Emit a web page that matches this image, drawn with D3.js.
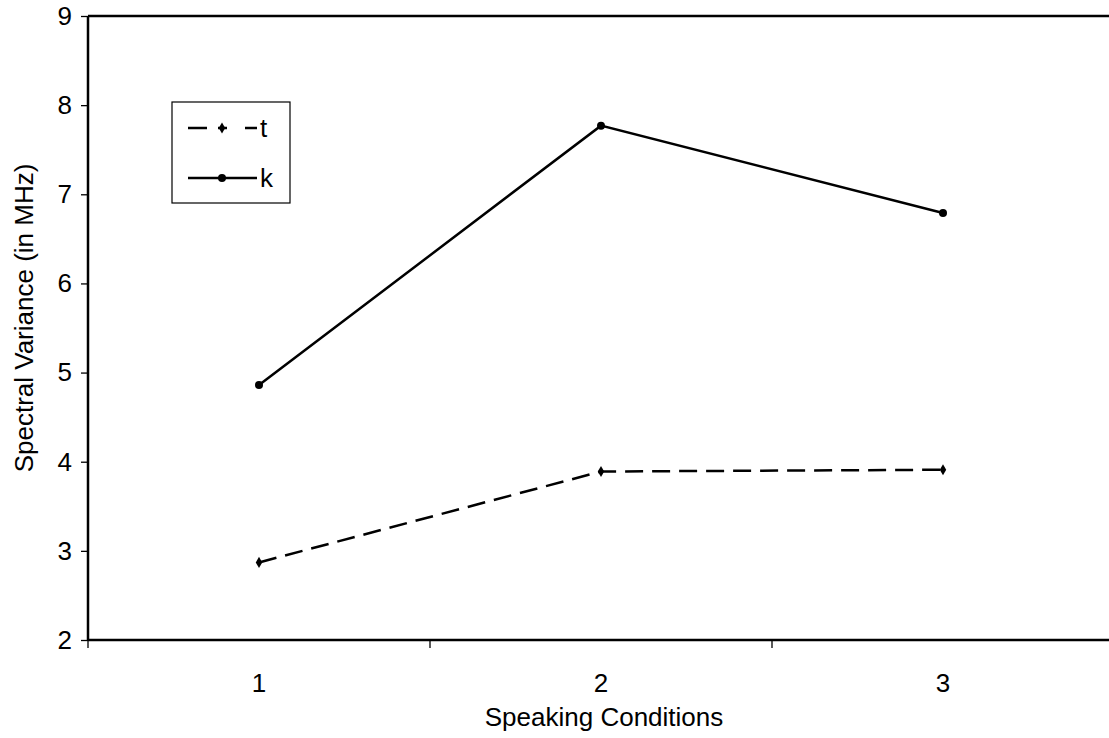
<!DOCTYPE html>
<html><head><meta charset="utf-8">
<script src="https://cdn.jsdelivr.net/npm/d3@7"></script>
<style>
html,body{margin:0;padding:0;background:#fff;overflow:hidden}
text{font-family:"Liberation Sans",Arial,sans-serif;fill:#000}
</style></head>
<body><svg id="c" width="1109" height="738"></svg>
<script>
const categories = ["1","2","3"];
const seriesNames = ["t","k"];
const tValues = [2.87, 3.89, 3.91];
const kValues = [4.86, 7.77, 6.79];
const yTicks = [2,3,4,5,6,7,8,9];

const svg = d3.select("#c");
const mLeft = 88, mTop = 16, mBottom = 640, band = 342;
const x = d3.scaleBand().domain(categories).range([mLeft, mLeft + band*3]).paddingInner(0).paddingOuter(0);
const y = d3.scaleLinear().domain([2,9]).range([mBottom, mTop]);
const fs = 26;

// axes
const gy = svg.append("g").attr("transform", `translate(${mLeft},0)`)
  .call(d3.axisLeft(y).tickValues(yTicks).tickSize(7).tickPadding(9).tickFormat(d3.format("d")));
gy.select(".domain").remove();
gy.selectAll(".tick line").attr("stroke","#000").attr("stroke-width",1.3);
gy.selectAll("text").style("font-size", fs+"px").attr("font-family","Liberation Sans, Arial, sans-serif");

const gx = svg.append("g").attr("transform", `translate(0,${mBottom})`);
const bounds = [0,1,2,3].map(i => mLeft + i*band);
gx.selectAll("line.tk").data(bounds).join("line").attr("class","tk")
  .attr("x1",d=>d).attr("x2",d=>d).attr("y1",0).attr("y2",8).attr("stroke","#000").attr("stroke-width",1.3);
gx.selectAll("text").data(categories).join("text")
  .attr("x", d => x(d) + x.bandwidth()/2).attr("y", 52)
  .attr("text-anchor","middle").style("font-size", fs+"px").text(d=>d);

// frame
svg.append("line").attr("x1",mLeft).attr("x2",1109).attr("y1",mTop).attr("y2",mTop).attr("stroke","#000").attr("stroke-width",2.5);
svg.append("line").attr("x1",mLeft).attr("x2",1109).attr("y1",mBottom).attr("y2",mBottom).attr("stroke","#000").attr("stroke-width",2.5);
svg.append("line").attr("x1",mLeft).attr("x2",mLeft).attr("y1",mTop).attr("y2",mBottom).attr("stroke","#000").attr("stroke-width",2.5);

// titles
svg.append("text").attr("x", 604).attr("y", 726).attr("text-anchor","middle").style("font-size", fs+"px").text("Speaking Conditions");
svg.append("text").attr("transform","translate(33,318) rotate(-90)").attr("text-anchor","middle").style("font-size", fs+"px").text("Spectral Variance (in MHz)");

// series
const cx = d => x(d) + x.bandwidth()/2;
const line = d3.line().x((d,i)=>cx(categories[i])).y(d=>y(d));
svg.append("path").datum(tValues).attr("d",line).attr("fill","none").attr("stroke","#000").attr("stroke-width",2.5).attr("stroke-dasharray","18,9");
svg.append("path").datum(kValues).attr("d",line).attr("fill","none").attr("stroke","#000").attr("stroke-width",2.5);
const diamond = d3.symbol().type(d3.symbolDiamond).size(36);
svg.selectAll("path.tm").data(tValues).join("path").attr("class","tm")
  .attr("d",diamond).attr("transform",(d,i)=>`translate(${cx(categories[i])},${y(d)})`).attr("fill","#000");
svg.selectAll("circle.km").data(kValues).join("circle").attr("class","km")
  .attr("cx",(d,i)=>cx(categories[i])).attr("cy",d=>y(d)).attr("r",4).attr("fill","#000");

// legend
const lg = svg.append("g");
lg.append("rect").attr("x",172).attr("y",102).attr("width",118).attr("height",101).attr("fill","#fff").attr("stroke","#000").attr("stroke-width",1.2);
const ly = [128, 178];
seriesNames.forEach((s,i)=>{
  lg.append("line").attr("x1",188).attr("x2",257).attr("y1",ly[i]).attr("y2",ly[i]).attr("stroke","#000").attr("stroke-width",2.5)
    .attr("stroke-dasharray", i===0 ? "19,11,9,18,12" : null);
  if(i===0) lg.append("path").attr("d",diamond).attr("transform",`translate(222,${ly[i]})`).attr("fill","#000");
  else lg.append("circle").attr("cx",222).attr("cy",ly[i]).attr("r",4).attr("fill","#000");
  lg.append("text").attr("x",260).attr("y",ly[i]+9).style("font-size", fs+"px").text(s);
});
</script></body></html>
